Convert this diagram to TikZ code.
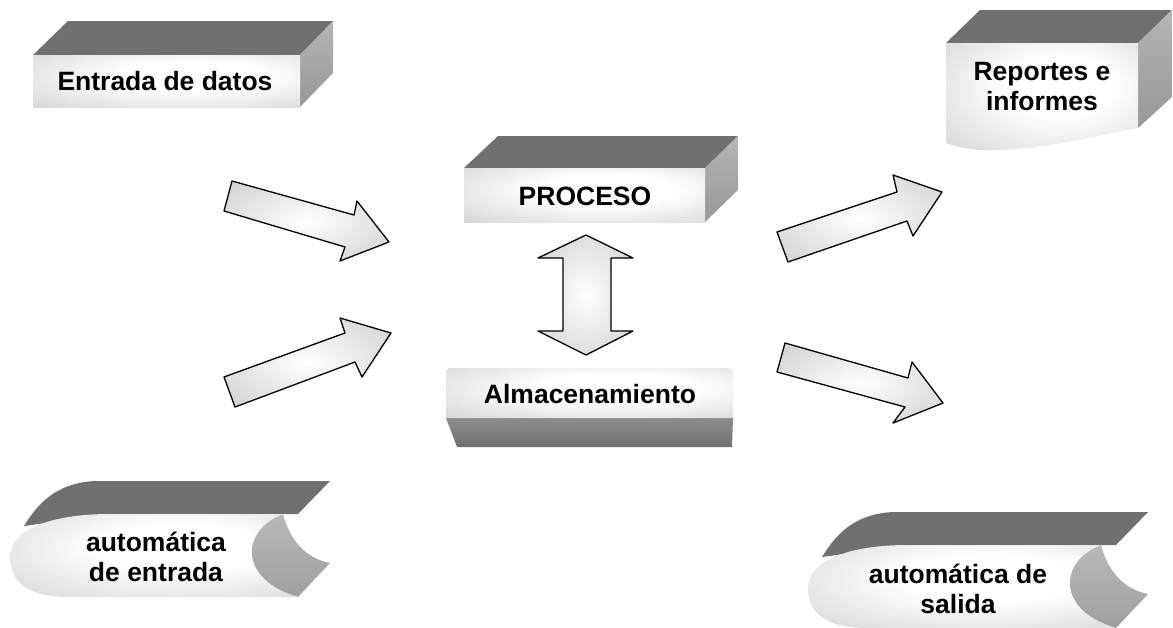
\documentclass[tikz,border=0pt]{standalone}
\usepackage{fontspec}
\setmainfont{Liberation Sans}
\definecolor{topg}{RGB}{112,112,112}
\definecolor{sideg}{RGB}{168,168,168}
\pgfdeclareradialshading{softface}{\pgfpoint{6bp}{6bp}}{color(0bp)=(white); color(14bp)=(white); color(50bp)=(black!22); color(75bp)=(black!32)}
\pgfdeclareradialshading{softarrow}{\pgfpoint{0bp}{0bp}}{color(0bp)=(white); color(25bp)=(black!13); color(50bp)=(black!26); color(75bp)=(black!32)}
\begin{document}
\begin{tikzpicture}[x=1pt,y=-1pt,line join=round,
  topface/.style={fill=topg},
  sideface/.style={top color=sideg!85!white,bottom color=sideg!90!black},
  frontface/.style={shading=softface},
  hollow/.style={top color=gray!55,bottom color=gray!75},
  blockarrow/.style={draw=black,line width=1.3pt,shading=softarrow},
  lbl/.style={font=\fontsize{26.5}{30}\selectfont\bfseries,align=center,inner sep=0pt}]
\useasboundingbox (0,0) rectangle (1173,627);

% ---- Entrada de datos
\path[topface] (33,55) -- (68,21) -- (333,21) -- (300,55) -- cycle;
\path[sideface] (300,55) -- (333,21) -- (333,73) -- (300,107) -- cycle;
\path[frontface] (33,55) rectangle (300,107);
\node[lbl] (entrada) at (165,81) {Entrada de datos};

% ---- Reportes e informes
\path[topface] (946,43) -- (980,10) -- (1172,10) -- (1138,43) -- cycle;
\path[sideface] (1138,43) -- (1172,10) -- (1172,97) -- (1138,128) -- cycle;
\path[frontface] (946,43) -- (1138,43) -- (1138,128)
   .. controls (1100,135) and (1050,148) .. (1000,150)
   .. controls (985,151) and (965,150) .. (946,143) -- cycle;
\node[lbl] (reportes) at (1042,87) {Reportes e\\informes};

% ---- PROCESO
\path[topface] (464,168) -- (498,136) -- (738,136) -- (705,168) -- cycle;
\path[sideface] (705,168) -- (738,136) -- (738,190) -- (705,222) -- cycle;
\path[frontface] (464,168) rectangle (705,222);
\node[lbl] (proceso) at (585,196) {PROCESO};

% ---- Almacenamiento
\path[top color=topg!80!white,bottom color=topg] (446,418) -- (733,418) -- (732,447) -- (457,447) -- cycle;
\path[frontface] (446,418) -- (446,372) .. controls (446,369) and (447,368) .. (450,368)
   -- (727,368) .. controls (731,368) and (733,370) .. (733,374) -- (733,418) -- cycle;
\node[lbl] (almac) at (590,394) {Almacenamiento};

% ---- double arrow
\path[blockarrow] (586,235) -- (633,258) -- (611,258) -- (611,331) -- (633,331)
   -- (586,355) -- (538,331) -- (563,331) -- (563,258) -- (538,258) -- cycle;

% ---- input arrows
\path[blockarrow] (232,181) -- (354,215) -- (357,201) -- (389,242) -- (340,261)
   -- (345,247) -- (224,211) -- cycle;
\path[blockarrow] (224,377) -- (345,333) -- (340,318) -- (391,333) -- (362,377)
   -- (355,362) -- (235,407) -- cycle;
% ---- output arrows
\path[blockarrow] (777,232) -- (897,192) -- (893,175) -- (942,192) -- (913,236)
   -- (907,221) -- (788,262) -- cycle;
\path[blockarrow] (785,343) -- (908,378) -- (912,362) -- (943,403) -- (893,423)
   -- (905,407) -- (777,372) -- cycle;

% ---- automatica de entrada
\path[topface] (24,526) .. controls (37,505) and (55,483) .. (95,481) -- (330,481)
   -- (298,514) -- (110,514) -- cycle;
\path[hollow] (283,514) .. controls (240,530) and (238,580) .. (298,597) -- (330,563)
   .. controls (305,558) and (290,540) .. (283,514) -- cycle;
\path[frontface] (110,514) -- (283,514) .. controls (240,530) and (238,580) .. (298,597)
   -- (70,597) .. controls (25,597) and (10,580) .. (10,557)
   .. controls (10,530) and (50,514) .. (110,514) -- cycle;
\node[lbl] (autoent) at (156,557) {automática\\de entrada};

% ---- automatica de salida
\path[topface] (822,557) .. controls (835,536) and (853,514) .. (893,512) -- (1148,512)
   -- (1116,545) -- (908,545) -- cycle;
\path[hollow] (1101,545) .. controls (1058,561) and (1056,611) .. (1116,628) -- (1148,594)
   .. controls (1123,589) and (1108,571) .. (1101,545) -- cycle;
\path[frontface] (908,545) -- (1101,545) .. controls (1058,561) and (1056,611) .. (1116,628)
   -- (868,628) .. controls (823,628) and (808,611) .. (808,588)
   .. controls (808,561) and (848,545) .. (908,545) -- cycle;
\node[lbl] (autosal) at (958,589) {automática de\\salida};
\end{tikzpicture}
\end{document}
